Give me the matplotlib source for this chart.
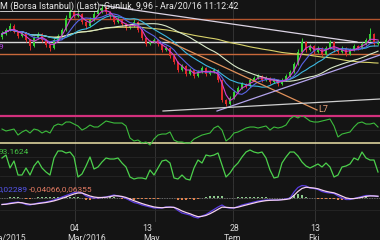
import numpy as np
import pandas as pd
import matplotlib
matplotlib.use("Agg")
import matplotlib.pyplot as plt
from matplotlib.transforms import blended_transform_factory

plt.rcParams['font.family'] = ['Roboto', 'DejaVu Sans']

# ── Data (one bar ~ 4 px) ─────────────────────────────────
first_open = 10.20
close = [10.36, 10.56, 10.76, 10.46, 10.26, 10.41, 10.06, 9.76, 10.16, 10.36,
         10.06, 9.81, 9.66, 10.06, 10.26, 10.56, 11.16, 11.46, 11.26, 11.36,
         10.96, 10.76, 11.06, 11.36, 11.46, 11.66, 11.46, 11.26, 10.96, 11.06,
         10.86, 10.66, 10.76, 10.96, 10.56, 10.16, 9.86, 9.96, 10.06, 9.86,
         9.56, 9.66, 9.26, 8.96, 8.56, 8.76, 8.36, 8.56, 8.26, 8.46,
         8.66, 8.36, 8.46, 8.56, 8.06, 7.06, 6.86, 7.16, 7.46, 7.66,
         7.86, 7.76, 8.06, 8.16, 8.26, 8.06, 8.16, 7.96, 8.06, 7.86,
         8.06, 8.26, 8.46, 8.86, 9.46, 9.96, 9.56, 9.76, 9.46, 9.66,
         9.36, 9.66, 9.96, 9.56, 9.46, 9.66, 9.36, 9.56, 9.76, 9.66,
         9.86, 10.06, 10.36, 9.86, 9.96]
high = [10.50, 10.66, 10.90, 10.86, 10.52, 10.50, 10.46, 10.10, 10.26, 10.46,
        10.40, 10.10, 9.86, 10.16, 10.36, 10.66, 11.30, 11.60, 11.56, 11.50,
        11.40, 11.00, 11.20, 11.50, 11.60, 11.86, 11.76, 11.50, 11.30, 11.20,
        11.10, 10.90, 10.86, 11.10, 11.00, 10.60, 10.20, 10.06, 10.16, 10.10,
        9.90, 9.76, 9.70, 9.30, 9.00, 8.86, 8.80, 8.66, 8.60, 8.56,
        8.76, 8.70, 8.56, 8.66, 8.60, 8.10, 7.10, 7.26, 7.56, 7.76,
        7.96, 7.90, 8.16, 8.26, 8.36, 8.30, 8.26, 8.20, 8.16, 8.10,
        8.16, 8.36, 8.56, 8.96, 9.60, 10.16, 10.00, 9.86, 9.80, 9.76,
        9.70, 9.76, 10.06, 10.00, 9.60, 9.76, 9.70, 9.66, 9.86, 9.80,
        9.96, 10.16, 10.66, 10.40, 10.06]
low = [10.10, 10.30, 10.50, 10.40, 10.16, 10.20, 9.96, 9.56, 9.70, 10.10,
       9.96, 9.70, 9.50, 9.60, 10.00, 10.20, 10.50, 11.10, 11.16, 11.20,
       10.86, 10.60, 10.70, 11.00, 11.30, 11.40, 11.36, 11.10, 10.86, 10.90,
       10.76, 10.56, 10.60, 10.70, 10.46, 10.06, 9.76, 9.80, 9.90, 9.76,
       9.46, 9.50, 9.16, 8.86, 8.46, 8.50, 8.26, 8.30, 8.16, 8.20,
       8.40, 8.26, 8.30, 8.40, 7.96, 6.96, 6.76, 6.80, 7.10, 7.40,
       7.60, 7.66, 7.70, 8.00, 8.10, 7.96, 8.00, 7.86, 7.90, 7.76,
       7.80, 8.00, 8.20, 8.40, 8.80, 9.40, 9.46, 9.50, 9.36, 9.40,
       9.26, 9.30, 9.60, 9.46, 9.36, 9.40, 9.26, 9.30, 9.50, 9.56,
       9.60, 9.80, 10.00, 9.76, 9.80]

rsi = [50.7, 47.8, 49.2, 50.7, 41.8, 46.3, 49.2, 44.8, 50.7, 49.2,
       44.8, 47.8, 44.8, 55.2, 58.1, 56.6, 61.1, 61.1, 58.1, 55.2,
       49.2, 52.2, 56.6, 53.7, 53.7, 58.1, 62.6, 61.1, 59.6, 59.6,
       59.6, 55.2, 37.4, 33.0, 34.4, 30.0, 31.5, 27.0, 35.9, 41.8,
       43.3, 43.3, 46.3, 34.4, 31.5, 31.5, 30.0, 30.0, 35.9, 38.9,
       41.8, 43.3, 44.8, 52.2, 55.2, 49.2, 33.0, 37.4, 44.8, 46.3,
       49.2, 52.2, 53.7, 53.7, 52.2, 53.7, 55.2, 49.2, 53.7, 52.2,
       53.7, 56.6, 65.5, 70.0, 67.0, 71.4, 67.0, 62.6, 61.1, 61.1,
       62.6, 64.0, 65.5, 55.2, 38.9, 43.3, 44.8, 46.3, 53.7, 59.6,
       61.1, 58.1, 58.1, 59.6, 53.7]

stoch = [75.8, 84.8, 45.5, 66.7, 24.2, 24.2, 45.5, 24.2, 51.5, 66.7,
         45.5, 33.3, 24.2, 75.8, 97.0, 97.0, 90.9, 93.9, 78.8, 18.2,
         27.3, 51.5, 78.8, 42.4, 48.5, 63.6, 75.8, 72.7, 72.7, 75.8,
         60.6, 48.5, 18.2, 12.1, 15.2, 15.2, 12.1, 39.4, 24.2, 45.5,
         66.7, 69.7, 60.6, 15.2, 12.1, 24.2, 12.1, 9.1, 45.5, 69.7,
         60.6, 84.8, 81.8, 84.8, 90.9, 54.5, 18.2, 30.3, 48.5, 60.6,
         78.8, 93.9, 100.0, 93.9, 90.9, 93.9, 75.8, 39.4, 15.2, 18.2,
         60.6, 78.8, 93.9, 93.9, 81.8, 63.6, 51.5, 45.5, 51.5, 57.6,
         48.5, 60.6, 48.5, 18.2, 24.2, 48.5, 51.5, 57.6, 75.8, 69.7,
         93.9, 75.8, 69.7, 69.7, 33.3]

macd = [-0.0325, -0.030, -0.025, -0.0225, -0.020, -0.025, -0.0325, -0.035, -0.030, -0.025,
        -0.0225, -0.020, -0.015, -0.010, -0.0025, 0.005, 0.0125, 0.020, 0.0275, 0.030,
        0.025, 0.010, 0.0025, 0.0, 0.0, 0.0025, 0.005, 0.010, 0.015, 0.010,
        0.005, -0.0025, -0.0125, -0.0225, -0.0275, -0.035, -0.040, -0.045, -0.050, -0.050,
        -0.050, -0.045, -0.045, -0.0475, -0.0625, -0.075, -0.080, -0.085, -0.095, -0.100,
        -0.090, -0.0825, -0.070, -0.0575, -0.045, -0.035, -0.0475, -0.050, -0.050, -0.0425,
        -0.035, -0.030, -0.025, -0.020, -0.015, -0.0125, -0.010, -0.010, -0.010, -0.010,
        -0.0075, -0.005, 0.0, 0.030, 0.0525, 0.0625, 0.060, 0.050, 0.0475, 0.0425,
        0.0325, 0.0275, 0.025, 0.0225, 0.010, 0.0, -0.0075, -0.0075, -0.0025, 0.0025,
        0.0075, 0.0125, 0.0125, 0.010, 0.0075]

ma_windows = [60, 25, 12, 6, 3]
ma_colors = ['#d8d26a', '#d8e8c8', '#3cb8e0', '#5a64e8', '#d040d0']

levels = [11.11, 9.96, 9.36]
level_colors = ['#b4552e', '#d8d8d8', '#c8683a']
grid_price = [8.41]

# trendlines: (bar index, price) pairs
trend_down = ([24.5, 88.75], [11.81, 9.96])
trend_l7 = ([39.5, 78.75], [10.185, 6.56])
trend_up = ([53.75, 94.5], [6.51, 9.31])
trend_flat = ([40.25, 94.5], [6.51, 7.11])

title = "M (Borsa Istanbul) (Last), Gunluk, 9,96 - Ara/20/16 11:12:42"
day_labels = ["04", "13", "28", "13"]
day_pos = [18.0, 36.25, 58.25, 78.25]
month_labels = ["Ara/2015", "Mar/2016", "May", "Tem", "Eki"]
month_pos = [1.5, 21.25, 37.5, 57.75, 78.0]
vgrid = [18.25, 38.25, 57.75, 78.25]

# ── Derived series ────────────────────────────────────────
n = len(close)
idx = np.arange(n)
close_s = pd.Series(close)
opens = np.r_[first_open, close[:-1]]
closes = np.array(close)
signal = pd.Series(macd).ewm(span=3, adjust=False).mean().values
hist = np.array(macd) - signal

BG = '#141414'
fig = plt.figure(figsize=(3.8, 2.4), dpi=100, facecolor=BG)


def px_axes(top, bottom):
    ax = fig.add_axes([0, 1 - bottom / 240, 1, (bottom - top) / 240])
    ax.set_facecolor(BG)
    ax.set_xlim(-0.5, n - 0.5)
    ax.set_xticks([])
    ax.set_yticks([])
    for s in ax.spines.values():
        s.set_visible(False)
    for g in vgrid:
        ax.axvline(g, color='#383838', lw=0.6, zorder=0)
    return ax


# ── Price panel ───────────────────────────────────────────
ax1 = px_axes(0, 116)
ax1.set_ylim(6.26, 12.06)
for g in grid_price:
    ax1.axhline(g, color='#2c2c2c', lw=0.6, zorder=0)
for lv, c in zip(levels, level_colors):
    ax1.axhline(lv, color=c, lw=1.0, zorder=1)

up = closes >= opens
cc = np.where(up, '#36d036', '#e02a2a')
ax1.vlines(idx, low, high, colors=cc, lw=0.7, zorder=2)
ax1.bar(idx, np.maximum(np.abs(closes - opens), 0.02), bottom=np.minimum(opens, closes),
        width=0.6, color=cc, zorder=3)

for w, c in zip(ma_windows, ma_colors):
    ax1.plot(idx, close_s.rolling(w, min_periods=1).mean(), color=c, lw=0.8, zorder=4)

ax1.plot(*trend_down, color='#dcd4e4', lw=0.9, zorder=5)
ax1.plot(*trend_l7, color='#e0905a', lw=0.9, zorder=5)
ax1.plot(*trend_up, color='#b4a4ec', lw=0.9, zorder=5)
ax1.plot(*trend_flat, color='#cfcfcf', lw=0.9, zorder=5)
ax1.text(trend_l7[0][1] + 0.3, trend_l7[1][1] + 0.05, "L7", color='#e8a07a',
         fontsize=6.5, ha='left', va='center')

fig.text(0.0, 1 - 6 / 240, title, color='#e8e8e8', fontsize=6.5, ha='left', va='center')
fig.add_artist(plt.Line2D([0, 97 / 380], [1 - 10.5 / 240] * 2, color='#e8e8e8', lw=0.6))
fig.text(-0.004, 1 - 47 / 240, "9", color='#b040e0', fontsize=6, ha='left', va='center')

# ── RSI panel ─────────────────────────────────────────────
ax2 = px_axes(116, 147)
ax2.set_ylim(24.08, 70)
ax2.axhline(70, color='#d2307c', lw=1.6, clip_on=False)
ax2.axhline(50, color='#262626', lw=0.6, zorder=0)
ax2.axhline(30, color='#ece2a8', lw=1.1)
ax2.plot(idx, rsi, color='#3cbc3c', lw=0.8)

# ── Oscillator panel ──────────────────────────────────────
ax3 = px_axes(147, 184)
ax3.set_ylim(-3.03, 109.1)
for g in [20, 50, 80]:
    ax3.axhline(g, color='#262626', lw=0.6, zorder=0)
ax3.plot(idx, stoch, color='#4cd04c', lw=0.9)
fig.text(-0.003, 1 - 152 / 240, "93.1624", color='#44c444', fontsize=6, ha='left', va='center')

# ── MACD panel ────────────────────────────────────────────
ax4 = px_axes(184, 222)
ax4.set_ylim(-0.12, 0.07)
ax4.axhline(-0.06, color='#262626', lw=0.6, zorder=0)
ax4.axhline(0, color='#8a8a8a', lw=0.6, ls=(0, (1, 1)), zorder=1)
ax4.bar(idx, hist, width=0.6, color=np.where(hist >= 0, '#8cc88c', '#e0804c'), zorder=2)
ax4.plot(idx, macd, color='#5a3ce0', lw=0.9, zorder=3)
ax4.plot(idx, signal, color='#f4d0f0', lw=0.9, zorder=4)
fig.text(28 / 380, 1 - 189 / 240, "0,02289", color='#5656ee', fontsize=6, ha='right', va='center')
fig.text(29 / 380, 1 - 189 / 240, "-0,04066,0,06355", color='#e27a62', fontsize=6,
         ha='left', va='center')

# ── Date labels ───────────────────────────────────────────
tr = blended_transform_factory(ax4.transData, fig.transFigure)
for lab, p in zip(day_labels, day_pos):
    ax4.text(p, 1 - 228.5 / 240, lab, transform=tr, color='#d8d8d8', fontsize=6.3,
             ha='center', va='center', clip_on=False)
for lab, p in zip(month_labels, month_pos):
    ax4.text(p, 1 - 238.5 / 240, lab, transform=tr, color='#d8d8d8', fontsize=6.3,
             ha='center', va='center', clip_on=False)

fig.savefig('out.png', dpi=100, facecolor=BG)
